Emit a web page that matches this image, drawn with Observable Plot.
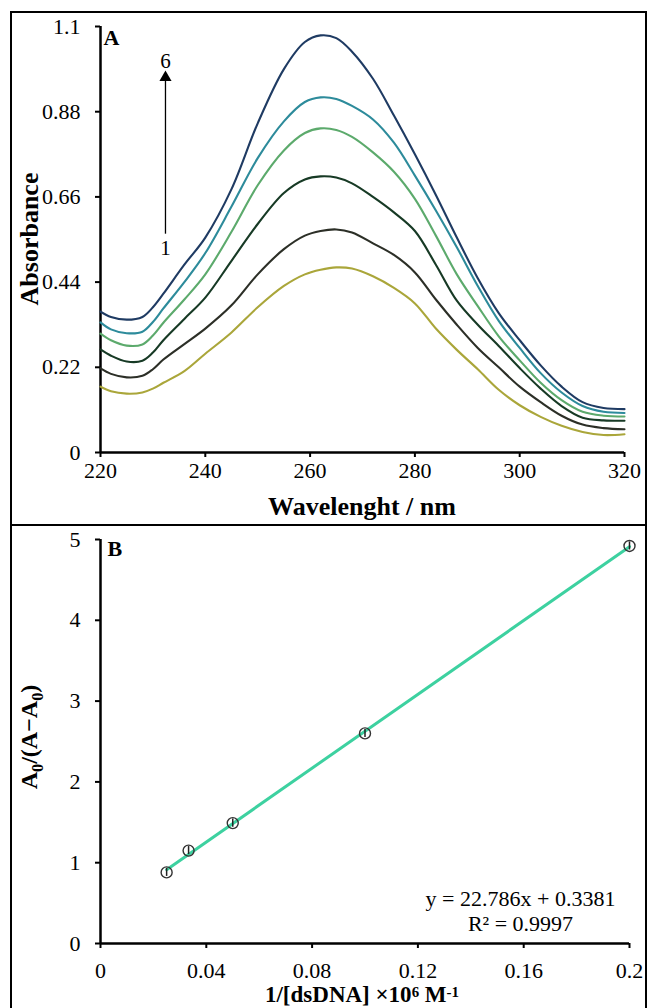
<!DOCTYPE html>
<html>
<head>
<meta charset="utf-8">
<script src="https://cdn.jsdelivr.net/npm/d3@7"></script>
<script src="https://cdn.jsdelivr.net/npm/@observablehq/plot@0.6"></script>
<style>
  html, body { margin: 0; padding: 0; background: #fff; }
  #wrap { position: relative; width: 648px; height: 1008px; overflow: hidden;
          font-family: "Liberation Serif", "Times New Roman", serif; color: #000; }
  .panel { position: absolute; left: 0; }
  .line { position: absolute; background: #000; }
  .title { position: absolute; font-weight: bold; white-space: nowrap; line-height: 1; color: #000; }
  .title sub { font-size: 0.68em; line-height: 0; }
  .title sup { font-size: 0.65em; line-height: 0; vertical-align: 0.35em; }
</style>
</head>
<body>
<div id="wrap">
  <div id="panelA" class="panel" style="top:0px"></div>
  <div id="panelB" class="panel" style="top:524px"></div>
  <div class="line" style="left:10px; top:11px; width:636px; height:2px"></div>
  <div class="line" style="left:10px; top:11px; width:2px; height:1000px"></div>
  <div class="line" style="left:645px; top:11px; width:2px; height:1000px"></div>
  <div class="line" style="left:10px; top:524px; width:636px; height:2px"></div>
  <div class="title" style="left:362px; top:494px; font-size:26px; transform:translateX(-50%)">Wavelenght / nm</div>
  <div class="title" style="left:30px; top:239px; font-size:26px; transform:translate(-50%,-50%) rotate(-90deg)">Absorbance</div>
  <div class="title" style="left:362px; top:983px; font-size:23px; transform:translateX(-50%)">1/[dsDNA] ×10<sup>6</sup> M<sup>-1</sup></div>
  <div class="title" style="left:29px; top:737px; font-size:24px; transform:translate(-50%,-50%) rotate(-90deg)">A<sub>0</sub>/(A−A<sub>0</sub>)</div>
</div>
<script>
// ---------- Panel A: UV-Vis spectra ----------
const wavelengths = [220, 222, 225, 228, 230, 232, 236, 240, 245, 250, 255, 259, 262, 265, 268, 272, 276, 280, 284, 288, 292, 296, 300, 304, 308, 312, 316, 320];
const abs1 = [0.170, 0.158, 0.152, 0.155, 0.165, 0.180, 0.210, 0.255, 0.310, 0.375, 0.430, 0.460, 0.472, 0.478, 0.475, 0.455, 0.425, 0.385, 0.320, 0.265, 0.215, 0.162, 0.122, 0.092, 0.069, 0.053, 0.045, 0.047];
const abs2 = [0.217, 0.203, 0.194, 0.198, 0.215, 0.240, 0.280, 0.320, 0.380, 0.460, 0.525, 0.560, 0.572, 0.576, 0.568, 0.540, 0.510, 0.465, 0.395, 0.330, 0.270, 0.220, 0.170, 0.130, 0.095, 0.072, 0.063, 0.060];
const abs3 = [0.266, 0.250, 0.235, 0.237, 0.258, 0.290, 0.345, 0.400, 0.495, 0.590, 0.670, 0.705, 0.713, 0.710, 0.695, 0.660, 0.620, 0.572, 0.485, 0.392, 0.330, 0.275, 0.218, 0.165, 0.120, 0.090, 0.083, 0.082];
const abs4 = [0.307, 0.290, 0.276, 0.279, 0.302, 0.335, 0.395, 0.460, 0.570, 0.690, 0.780, 0.825, 0.837, 0.833, 0.815, 0.775, 0.725, 0.655, 0.560, 0.460, 0.378, 0.300, 0.238, 0.180, 0.135, 0.105, 0.095, 0.093];
const abs5 = [0.336, 0.318, 0.308, 0.312, 0.337, 0.372, 0.440, 0.515, 0.635, 0.760, 0.855, 0.905, 0.917, 0.913, 0.895, 0.860, 0.800, 0.715, 0.625, 0.530, 0.430, 0.340, 0.270, 0.205, 0.155, 0.120, 0.105, 0.102];
const abs6 = [0.364, 0.350, 0.343, 0.350, 0.375, 0.410, 0.485, 0.555, 0.680, 0.850, 0.990, 1.060, 1.077, 1.070, 1.035, 0.965, 0.870, 0.770, 0.665, 0.555, 0.450, 0.360, 0.290, 0.225, 0.170, 0.130, 0.115, 0.112];
const seriesNames = ["1", "2", "3", "4", "5", "6"];
const seriesColors = ["#aaa63a", "#2c2f27", "#173a25", "#5caa6c", "#2d8b9b", "#1f3b63"];
const xTicksA = [220, 240, 260, 280, 300, 320];
const yTicksA = [0, 0.22, 0.44, 0.66, 0.88, 1.1];
// arrow annotation (wavelength, absorbance)
const arrowX = 232.4;
const arrowFrom = 0.565, arrowTo = 0.968;
const arrowLabels = [{label: "6", y: 0.994}, {label: "1", y: 0.509}];

// ---------- Panel B: double reciprocal plot ----------
const invDNA = [0.025, 0.0333, 0.05, 0.1, 0.2];
const ratioB = [0.88, 1.15, 1.49, 2.6, 4.92];
const errB = [0.05, 0.05, 0.05, 0.05, 0.05];
const xTicksB = [0, 0.04, 0.08, 0.12, 0.16, 0.2];
const yTicksB = [0, 1, 2, 3, 4, 5];
const equationLines = [{t: "y = 22.786x + 0.3381", x: 0.1588, y: 0.47}, {t: "R² = 0.9997", x: 0.1588, y: 0.16}];

const spectra = [];
[abs1, abs2, abs3, abs4, abs5, abs6].forEach((arr, i) => {
  arr.forEach((a, j) => spectra.push({series: seriesNames[i], wavelength: wavelengths[j], absorbance: a}));
});
const pointsB = invDNA.map((x, i) => ({x, y: ratioB[i], e: errB[i]}));
const fmt = d => String(d);
const baseStyle = {fontFamily: "Liberation Serif, Times New Roman, serif", fontSize: "22px", color: "#000", background: "transparent", overflow: "visible"};

const plotA = Plot.plot({
  width: 648, height: 524,
  marginLeft: 100, marginRight: 24, marginTop: 26, marginBottom: 72,
  style: baseStyle,
  x: {domain: [220, 320]},
  y: {domain: [0, 1.1]},
  color: {domain: seriesNames, range: seriesColors},
  marks: [
    Plot.axisX({ticks: xTicksA, tickFormat: fmt, tickSize: 5, tickPadding: 5, strokeWidth: 2, label: null}),
    Plot.axisY({ticks: yTicksA, tickFormat: fmt, tickSize: 5, tickPadding: 15, strokeWidth: 2, label: null}),
    Plot.ruleX([220], {strokeWidth: 2.5}),
    Plot.ruleY([0], {strokeWidth: 2.5}),
    Plot.line(spectra, {x: "wavelength", y: "absorbance", z: "series", stroke: "series", strokeWidth: 2.1, curve: "catmull-rom"}),
    Plot.link([{}], {x1: arrowX, x2: arrowX, y1: arrowFrom, y2: arrowTo, stroke: "#000", strokeWidth: 1.3}),
    Plot.dot([{}], {x: arrowX, y: arrowTo, symbol: "triangle", r: 4.5, fill: "#000", stroke: null}),
    Plot.text(arrowLabels, {x: arrowX, y: "y", text: "label", lineAnchor: "bottom", fontSize: 21}),
    Plot.text(["A"], {frameAnchor: "top-left", text: d => d, dx: 3, dy: 3, lineAnchor: "top", textAnchor: "start", fontWeight: "bold", fontSize: 22})
  ]
});
document.getElementById("panelA").appendChild(plotA);

const plotB = Plot.plot({
  width: 648, height: 484,
  marginLeft: 100, marginRight: 19, marginTop: 15, marginBottom: 65,
  style: baseStyle,
  x: {domain: [0, 0.2]},
  y: {domain: [0, 5]},
  marks: [
    Plot.axisX({ticks: xTicksB, tickFormat: fmt, tickSize: 5, tickPadding: 14, strokeWidth: 2, label: null}),
    Plot.axisY({ticks: yTicksB, tickFormat: fmt, tickSize: 5, tickPadding: 15, strokeWidth: 2, label: null}),
    Plot.ruleX([0], {strokeWidth: 2.5}),
    Plot.ruleY([0], {strokeWidth: 2.5}),
    Plot.linearRegressionY(pointsB, {x: "x", y: "y", ci: 0, stroke: "#3dd1a0", strokeWidth: 3}),
    Plot.ruleX(pointsB, {x: "x", y1: d => d.y - d.e, y2: d => d.y + d.e, stroke: "#222", strokeWidth: 1.5}),
    Plot.dot(pointsB, {x: "x", y: "y", r: 5.5, stroke: "#333", strokeWidth: 1.4, fill: "none"}),
    Plot.text(equationLines, {x: "x", y: "y", text: "t", lineAnchor: "bottom", textAnchor: "middle", fontSize: 22}),
    Plot.text(["B"], {frameAnchor: "top-left", text: d => d, dx: 7, dy: 1, lineAnchor: "top", textAnchor: "start", fontWeight: "bold", fontSize: 22})
  ]
});
document.getElementById("panelB").appendChild(plotB);
</script>
</body>
</html>
